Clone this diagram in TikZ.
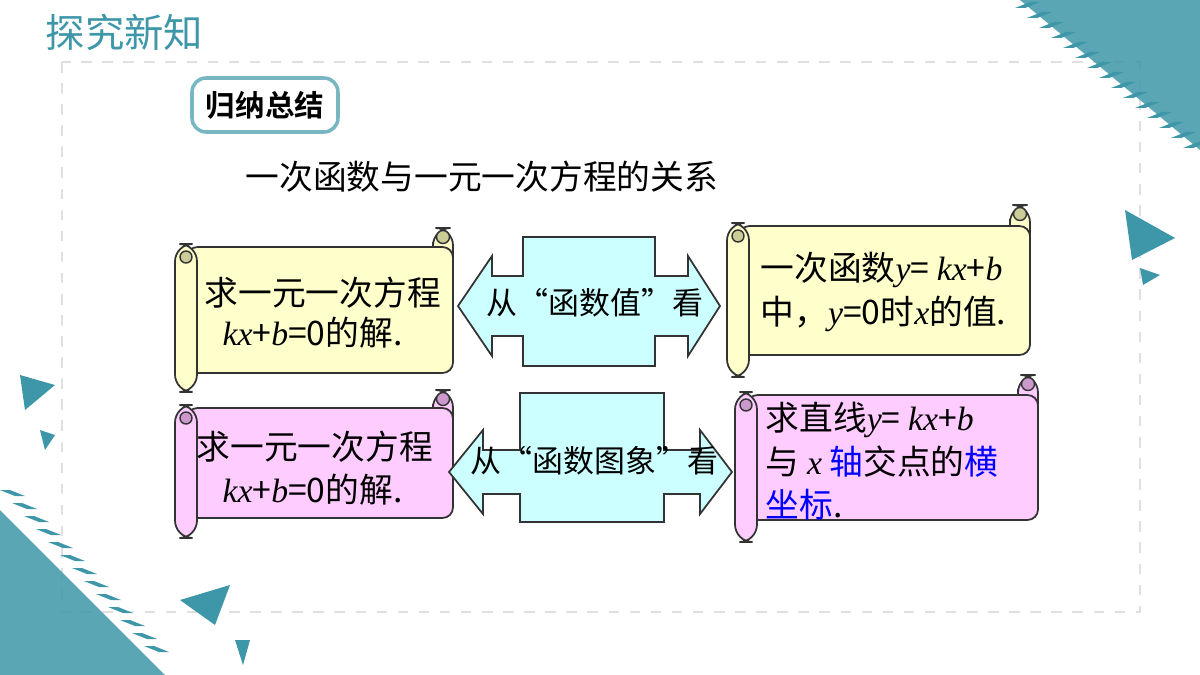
\documentclass[tikz,border=0pt]{standalone}
\usepackage{fontspec}
\setmainfont{Liberation Serif}
\newfontfamily\cjk{Noto Sans CJK SC}
\newfontfamily\cjkb{Noto Sans CJK SC Bold}
\definecolor{teal1}{HTML}{3E97A8}
\definecolor{scrollY}{HTML}{FFFFCC}
\definecolor{scrollP}{HTML}{FFCCFF}
\definecolor{curlY}{HTML}{CCCC99}
\definecolor{curlP}{HTML}{CC99CC}
\definecolor{boxC}{HTML}{CCFFFF}
\newcommand\vi[1]{{\rmfamily\itshape #1}}
\tikzset{
  body/.style={draw=black!80, line width=0.5pt, rounded corners=3},
  txt/.style={font=\cjk\fontsize{9.6}{11}\selectfont, align=left, inner sep=0pt, anchor=west},
  deco/.style={fill=teal1, draw=none}
}
% #1 x left, #2 y top, #3 x right, #4 y body bottom, #5 y curl top, #6 y roll bottom, #7 fill, #8 curl
\newcommand\scrollbox[8]{
  \draw[body, fill=#7, rounded corners=5] (#3-20,#5) rectangle (#3,#4-20);
  \draw[fill=#8, draw=black!80, line width=0.4pt] (#3-10,#5+9) circle (6.5);
  \draw[body, fill=#7] (#1+12,#2) rectangle (#3,#4);
  \draw[black!80] (#3-20,#2) -- (#3-20,#5+14);
  \draw[body, fill=#7, rounded corners=5] (#1,#2-3) rectangle (#1+22,#6);
  \draw[fill=#8, draw=black!80, line width=0.4pt] (#1+11,#2+10) circle (6);
}
% #1 rect x1, #2 y1, #3 x2, #4 y2, #5 band y1, #6 band y2, #7 tip left, #8 tip right
\newcommand\crossarrow[8]{
  \draw[body, rounded corners=0, fill=boxC]
    (#1,#2) -- (#3,#2) -- (#3,#5) -- (#8-32,#5) -- (#8-32,#5-20) -- (#8,#5/2+#6/2)
    -- (#8-32,#6+20) -- (#8-32,#6) -- (#3,#6) -- (#3,#4) -- (#1,#4) -- (#1,#6)
    -- (#7+34,#6) -- (#7+34,#6+20) -- (#7,#5/2+#6/2) -- (#7+34,#5-20) -- (#7+34,#5)
    -- (#1,#5) -- cycle;
}
\begin{document}
\begin{tikzpicture}[x=0.1mm, y=-0.1mm]
\useasboundingbox (0,0) rectangle (1200,675);
%%% background and decoration
\fill[white] (0,0) rectangle (1200,675);
\draw[black!12, dashed, line width=0.6pt] (62,62) rectangle (1140,612);
\fill[deco, opacity=0.85] (1020,0) -- (1200,0) -- (1200,150) -- cycle;
\foreach \i in {0,...,14}
  \fill[teal1] (1015+\i*12,8+\i*10) -- (1025+\i*12,8+\i*10) -- (1040+\i*12,2+\i*10) -- (1030+\i*12,2+\i*10) -- cycle;
\fill[deco] (1125,210) -- (1175,238) -- (1132,260) -- cycle;
\fill[deco] (1140,268) -- (1160,275) -- (1143,285) -- cycle;
\fill[deco] (20,375) -- (55,385) -- (25,410) -- cycle;
\fill[deco] (40,430) -- (55,435) -- (45,450) -- cycle;
\fill[deco, opacity=0.85] (0,510) -- (165,675) -- (0,675) -- cycle;
\foreach \i in {0,...,12}
  \fill[teal1] (0+\i*12,490+\i*13) -- (10+\i*12,490+\i*13) -- (25+\i*12,496+\i*13) -- (15+\i*12,496+\i*13) -- cycle;
\fill[deco] (180,600) -- (230,585) -- (215,625) -- cycle;
\fill[deco] (235,640) -- (250,640) -- (243,665) -- cycle;
\node[anchor=west, text=teal1, font=\cjk\fontsize{11.2}{13}\selectfont, inner sep=0pt] (title) at (45,32) {探究新知};
%%% heading
\node[draw=teal1!70, line width=1pt, rounded corners=4, fill=white, minimum width=14.6mm, minimum height=5.4mm,
  font=\cjkb\fontsize{8.4}{10}\selectfont] (sum) at (265,105) {归纳总结};
\node[anchor=west, inner sep=0pt, font=\cjk\fontsize{9.6}{12}\selectfont] (rel) at (245,177) {一次函数与一元一次方程的关系};
%%% scrolls
\scrollbox{175}{247}{453}{373}{228}{392}{scrollY}{curlY}
\scrollbox{727}{226}{1030}{355}{205}{377}{scrollY}{curlY}
\scrollbox{175}{408}{453}{518}{390}{538}{scrollP}{curlP}
\scrollbox{735}{395}{1038}{520}{375}{542}{scrollP}{curlP}
%%% arrows
\crossarrow{523}{237}{655}{366}{276}{336}{458}{720}
\crossarrow{520}{393}{664}{522}{450}{494}{449}{732}
%%% texts
\node[txt] (q1) at (204,293) {求一元一次方程};
\node[txt] (s1) at (222,333) {\vi{kx}+\vi{b}=0的解.};
\node[txt] (v1) at (760,270) {一次函数\vi{y}= \vi{kx}+\vi{b}};
\node[txt] (v2) at (760,314) {中，\vi{y}=0时\vi{x}的值.};
\node[txt] (q2) at (196,447) {求一元一次方程};
\node[txt] (s2) at (222,490) {\vi{kx}+\vi{b}=0的解.};
\node[txt] (g1) at (765,420) {求直线\vi{y}= \vi{kx}+\vi{b}};
\node[txt] (g2) at (765,462) {与 \vi{x} \textcolor{blue}{轴}交点的\textcolor{blue}{横}};
\node[txt, text=blue] (g3) at (765,505) {坐标\textcolor{black}{.}};
\node[txt, font=\cjk\fontsize{8.8}{11}\selectfont] (m1) at (486,303) {从“函数值”看};
\node[txt, font=\cjk\fontsize{8.8}{11}\selectfont] (m2) at (470,461) {从“函数图象”看};
\end{tikzpicture}
\end{document}
